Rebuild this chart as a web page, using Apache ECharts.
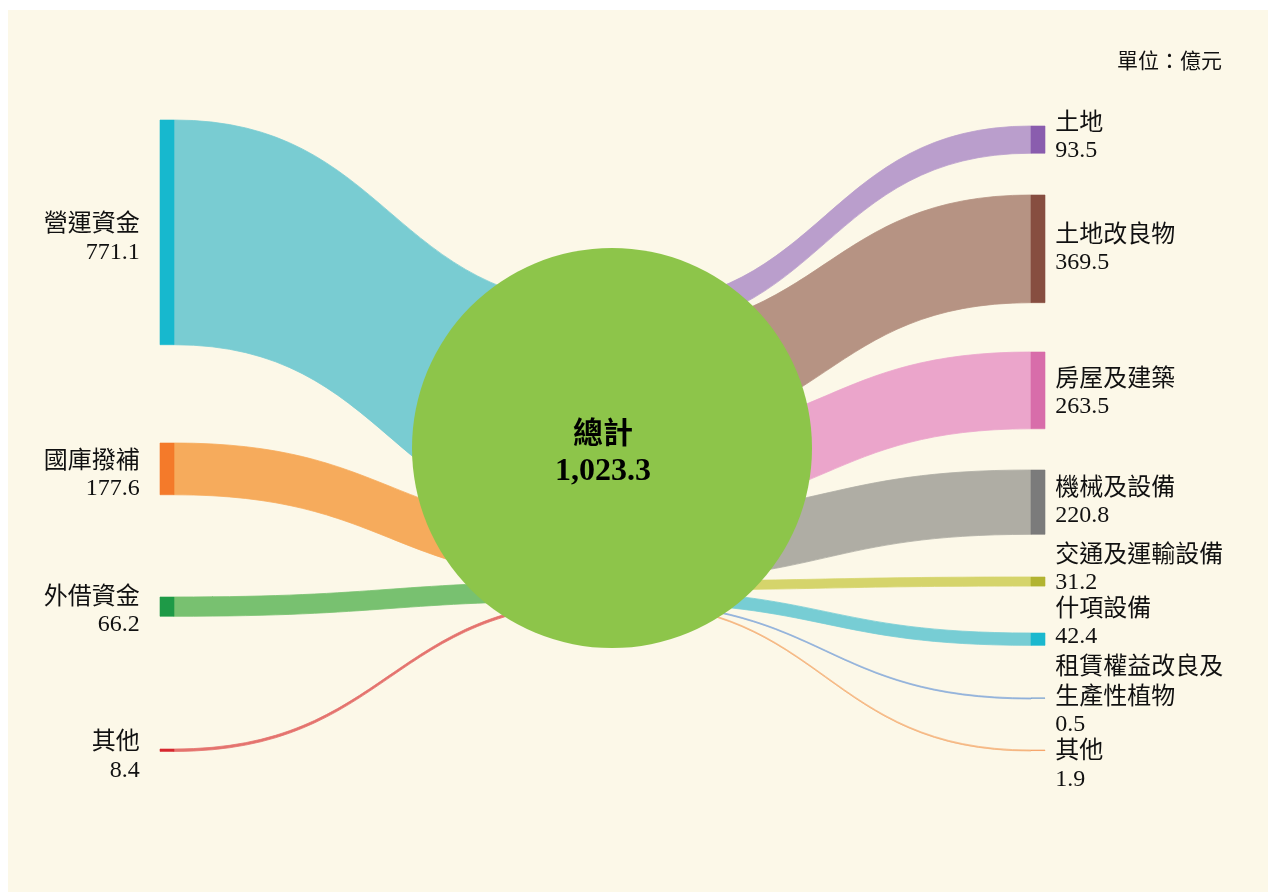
<!DOCTYPE html>
<html>
<head>
<meta charset="utf-8">
<script src="https://cdn.jsdelivr.net/npm/echarts@6/dist/echarts.min.js"></script>
<style>
  html, body { margin: 0; padding: 0; background: #ffffff; }
  #panel { position: absolute; left: 8px; top: 10px; width: 1260px; height: 882px; background: #FCF8E8; }
  #chart { position: absolute; left: 0; top: 0; width: 1268px; height: 892px; }
</style>
</head>
<body>
<div id="panel"></div>
<div id="chart"></div>
<script>
// ---- data ----
const sourceNames = ['營運資金', '國庫撥補', '外借資金', '其他'];
const sourceValues = [771.1, 177.6, 66.2, 8.4];
const useNames = ['土地', '土地改良物', '房屋及建築', '機械及設備', '交通及運輸設備', '什項設備', '租賃權益改良及\n生產性植物', '其他'];
const useValues = [93.5, 369.5, 263.5, 220.8, 31.2, 42.4, 0.5, 1.9];
const totalName = '總計';
const unitText = '單位：億元';

// ---- styles / layout ----
const sourceNodeColors = ['#17B8CE', '#F47A2A', '#1E9A47', '#D7282F'];
const sourceLinkColors = ['#79CCD2', '#F6AB5C', '#78C170', '#E4736E'];
const useNodeColors = ['#8A5DAE', '#874E40', '#D86DAA', '#7B7B7B', '#B2B431', '#1BB8CE', '#5D8FCB', '#F39A5A'];
const useLinkColors = ['#BA9ECC', '#B69383', '#EBA5CB', '#AFADA4', '#D5D46B', '#77CDD4', '#8FB0DA', '#F5B57F'];
const circleColor = '#8DC54A';

const box = { left: 160, top: 100, width: 885, height: 700 };
const sourceTops = [120, 443, 597, 749];
const useTops = [126, 195, 352, 470, 577, 633, 698, 750];
const middleTop = 305;
const middleLeft = 606;
const sourceLabelShift = [5, 5, 3, 5];
const useLabelShift = [-4, -1, 1, -1, -14, -17, -3, 14];

const FONT_CJK = "'Noto Sans CJK TC', 'Noto Sans CJK SC', sans-serif";
const FONT_NUM = "'Liberation Serif', 'DejaVu Serif', serif";

function fmt(v) { return String(v); }
const total = sourceValues.reduce((a, b) => a + b, 0);
const totalText = total.toLocaleString('en-US', { minimumFractionDigits: 1, maximumFractionDigits: 1 });

const rich = {
  n: { fontFamily: FONT_CJK, fontSize: 24, lineHeight: 30, color: '#111' },
  v: { fontFamily: FONT_NUM, fontSize: 24, lineHeight: 30, color: '#111' }
};

function labelText(name, value) {
  return name.split('\n').map(s => '{n|' + s + '}').join('\n') + '\n{v|' + fmt(value) + '}';
}

const nodes = [];
const links = [];
sourceNames.forEach((name, i) => {
  nodes.push({
    id: 's' + i, name: name, value: sourceValues[i],
    localX: 0,
    localY: (sourceTops[i] - box.top) / box.height,
    itemStyle: { color: sourceNodeColors[i], borderColor: sourceNodeColors[i], borderWidth: 0.6 },
    label: {
      show: true, position: 'left', distance: 20, align: 'right',
      offset: [0, sourceLabelShift[i]],
      formatter: labelText(name, sourceValues[i]), rich: rich
    }
  });
});
nodes.push({
  id: 'mid', name: totalName,
  localX: (middleLeft - box.left) / box.width,
  localY: (middleTop - box.top) / box.height,
  itemStyle: { color: circleColor },
  label: { show: false }
});
useNames.forEach((name, i) => {
  nodes.push({
    id: 'u' + i, name: name, value: useValues[i],
    localX: (box.width - 14) / box.width,
    localY: (useTops[i] - box.top) / box.height,
    itemStyle: { color: useNodeColors[i], borderColor: useNodeColors[i], borderWidth: 0.6 },
    label: {
      show: true, position: 'right', distance: 10, align: 'left',
      offset: [0, useLabelShift[i]],
      formatter: labelText(name, useValues[i]), rich: rich
    }
  });
});
sourceNames.forEach((name, i) => {
  links.push({
    source: 's' + i, target: 'mid', value: sourceValues[i],
    lineStyle: { color: sourceLinkColors[i], opacity: 1, borderColor: sourceLinkColors[i], borderWidth: 0.8 }
  });
});
useNames.forEach((name, i) => {
  links.push({
    source: 'mid', target: 'u' + i, value: useValues[i],
    lineStyle: { color: useLinkColors[i], opacity: 1, borderColor: useLinkColors[i], borderWidth: 0.8 }
  });
});

const chart = echarts.init(document.getElementById('chart'), null, { renderer: 'canvas' });
chart.setOption({
  backgroundColor: 'transparent',
  animation: false,
  series: [{
    type: 'sankey',
    left: box.left, top: box.top, width: box.width, height: box.height,
    nodeWidth: 14,
    nodeGap: 57.4,
    layoutIterations: 0,
    draggable: false,
    emphasis: { disabled: true },
    data: nodes,
    links: links
  }],
  graphic: [
    {
      type: 'circle', z: 100,
      shape: { cx: 612, cy: 448, r: 200 },
      style: { fill: circleColor }
    },
    {
      type: 'text', z: 101,
      x: 603, y: 432,
      style: {
        text: totalName, fontFamily: FONT_CJK, fontWeight: 'bold', fontSize: 30,
        fill: '#000', align: 'center', verticalAlign: 'middle'
      }
    },
    {
      type: 'text', z: 101,
      x: 603, y: 472,
      style: {
        text: totalText, fontFamily: FONT_NUM, fontWeight: 'bold', fontSize: 32,
        fill: '#000', align: 'center', verticalAlign: 'middle'
      }
    },
    {
      type: 'text', z: 101,
      x: 1222, y: 60,
      style: {
        text: unitText, fontFamily: FONT_CJK, fontSize: 21,
        fill: '#111', align: 'right', verticalAlign: 'middle'
      }
    }
  ]
});
</script>
</body>
</html>
